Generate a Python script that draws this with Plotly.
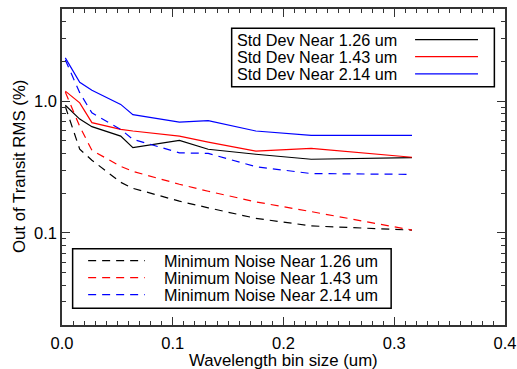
import plotly.graph_objects as go
import numpy as np

# Wavelength bin sizes (um)
bin_size = [0.003, 0.016, 0.027, 0.053, 0.064, 0.106, 0.132, 0.175, 0.225, 0.316]

std_126 = [0.93, 0.73, 0.64, 0.543, 0.444, 0.504, 0.431, 0.395, 0.362, 0.372]
std_143 = [1.19, 0.97, 0.686, 0.61, 0.593, 0.543, 0.489, 0.418, 0.438, 0.375]
std_214 = [2.13, 1.39, 1.21, 0.944, 0.79, 0.693, 0.711, 0.593, 0.55, 0.55]

min_126 = [0.91, 0.431, 0.356, 0.242, 0.218, 0.174, 0.155, 0.129, 0.113, 0.105]
min_143 = [1.17, 0.643, 0.423, 0.32, 0.293, 0.234, 0.207, 0.172, 0.145, 0.105]
min_214 = [2.05, 1.16, 0.814, 0.61, 0.513, 0.405, 0.401, 0.318, 0.282, 0.278]

std_names = ["Std Dev Near 1.26 um", "Std Dev Near 1.43 um", "Std Dev Near 2.14 um"]
min_names = ["Minimum Noise Near 1.26 um", "Minimum Noise Near 1.43 um", "Minimum Noise Near 2.14 um"]
colors = ["#000000", "#ff0000", "#0000ff"]

x_ticks = [0.0, 0.1, 0.2, 0.3, 0.4]
y_ticks = [0.1, 1.0]
y_ticktext = ["0.1", "1.0"]

x_title = "Wavelength bin size (um)"
y_title = "Out of Transit RMS (%)"

FONT = "Liberation Sans, Arial, Helvetica, sans-serif"
DASH = "8px,6px"

fig = go.Figure()
for ys, name, c in zip([std_126, std_143, std_214], std_names, colors):
    fig.add_trace(go.Scatter(x=bin_size, y=ys, mode="lines", name=name,
                             line=dict(color=c, width=1.2), showlegend=False))
for ys, name, c in zip([min_126, min_143, min_214], min_names, colors):
    fig.add_trace(go.Scatter(x=bin_size, y=ys, mode="lines", name=name,
                             line=dict(color=c, width=1.2, dash=DASH), showlegend=False))

minor_y = [m * 10.0 ** e for e in (-2, -1, 0) for m in range(2, 10)]
minor_y = [v for v in minor_y if 0.02 <= v <= 5]

axis_common = dict(showline=True, linecolor="#333", linewidth=1.5, mirror="ticks",
                   ticks="inside", tickcolor="#333", showgrid=False, zeroline=False,
                   automargin=False,
                   tickfont=dict(family=FONT, size=16.5, color="#000"))

fig.update_xaxes(range=[0, 0.4], tickvals=x_ticks, tickformat=".1f", ticklen=8, tickwidth=1,
                 ticklabelstandoff=2,
                 minor=dict(dtick=0.01, ticks="inside", ticklen=4, tickcolor="#333", showgrid=False),
                 **axis_common)
fig.update_yaxes(type="log", range=[np.log10(0.02), np.log10(5)], tickvals=y_ticks, ticktext=y_ticktext,
                 ticklen=8, tickwidth=1,
                 minor=dict(tickmode="array", tickvals=minor_y, ticks="inside", ticklen=4,
                            tickcolor="#333", showgrid=False),
                 **axis_common)

shapes = []
annotations = []

# Axis titles
annotations.append(dict(xref="paper", yref="paper", x=0.5, y=-0.112, text=x_title, showarrow=False,
                        xanchor="center", yanchor="middle", borderpad=0,
                        font=dict(family=FONT, size=16.8, color="#000")))
annotations.append(dict(xref="paper", yref="paper", x=-0.097, y=0.5, text=y_title, showarrow=False,
                        textangle=-90, xanchor="center", yanchor="middle", borderpad=0,
                        font=dict(family=FONT, size=16.8, color="#000")))

# Legend 1 (top right): text left, line sample right
shapes.append(dict(type="rect", xref="paper", yref="paper", x0=0.383, x1=0.976, y0=0.754, y1=0.939,
                   line=dict(color="#000", width=1.5), fillcolor="white", layer="above"))
rows1 = [0.903, 0.849, 0.795]
for name, c, yy in zip(std_names, colors, rows1):
    annotations.append(dict(xref="paper", yref="paper", x=0.393, y=yy, text=name, showarrow=False,
                            xanchor="left", yanchor="middle", borderpad=0,
                            font=dict(family=FONT, size=16.2, color="#000")))
    shapes.append(dict(type="line", xref="paper", yref="paper", x0=0.797, x1=0.939, y0=yy, y1=yy,
                       line=dict(color=c, width=1.2), layer="above"))

# Legend 2 (bottom left): dashed line sample left, text right
shapes.append(dict(type="rect", xref="paper", yref="paper", x0=0.024, x1=0.743, y0=0.053, y1=0.241,
                   line=dict(color="#000", width=1.5), fillcolor="white", layer="above"))
rows2 = [0.204, 0.150, 0.096]
for name, c, yy in zip(min_names, colors, rows2):
    annotations.append(dict(xref="paper", yref="paper", x=0.227, y=yy, text=name, showarrow=False,
                            xanchor="left", yanchor="middle", borderpad=0,
                            font=dict(family=FONT, size=16.2, color="#000")))
    shapes.append(dict(type="line", xref="paper", yref="paper", x0=0.059, x1=0.187, y0=yy, y1=yy,
                       line=dict(color=c, width=1.2, dash=DASH), layer="above"))

fig.update_layout(width=517, height=369, margin=dict(l=62, r=12, t=9, b=44),
                  paper_bgcolor="white", plot_bgcolor="white",
                  shapes=shapes, annotations=annotations, showlegend=False,
                  font=dict(family=FONT, size=16, color="#000"))

fig.write_html("out.html")
